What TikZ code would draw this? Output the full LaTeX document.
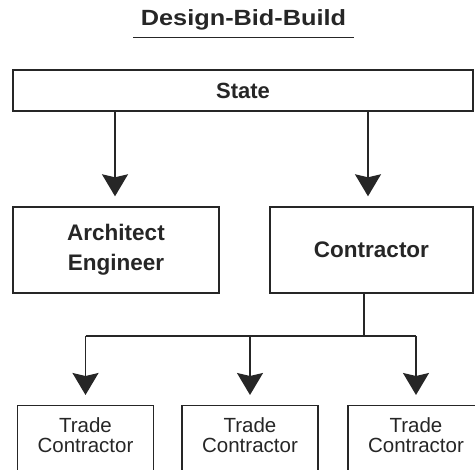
\documentclass[tikz,border=0pt]{standalone}
\usepackage{fontspec}
\setmainfont{Liberation Sans}
\newfontfamily\widefont[FakeStretch=1.15]{Liberation Sans}
\usepackage{tikz}
\usetikzlibrary{arrows.meta,positioning}
\definecolor{ink}{RGB}{38,38,38}

\begin{document}
\begin{tikzpicture}[x=1pt,y=-1pt,
    box/.style={draw=ink,line width=1.4pt,text=ink,align=center},
    bigbox/.style={box,font=\bfseries\fontsize{22.5}{30}\selectfont,minimum height=86pt},
    tradebox/.style={box,font=\fontsize{20.5}{20}\selectfont,minimum width=136pt,anchor=north,inner ysep=11.5pt,text depth=40pt},
    link/.style={ink,line width=1.5pt},
    arr/.style={link,-{Stealth[length=22pt,width=26pt,inset=3pt]},shorten >=10pt}]
  \clip (0,0) rectangle (475,470);
  % heading with its rule
  \node[font=\widefont\bfseries\fontsize{22}{24}\selectfont,text=ink,inner xsep=7.5pt,inner ysep=6.7pt] (title) at (243.5,20.1) {Design-Bid-Build};
  \draw[ink,line width=1.4pt] (title.south west) -- (title.south east);
  % top row
  \node[box,font=\bfseries\fontsize{22}{24}\selectfont,minimum width=460pt,minimum height=41pt] (state) at (243,90.5) {State};
  \node[bigbox,minimum width=206pt] (arch) at (116,250) {Architect\\Engineer};
  \node[bigbox,minimum width=203pt] (con) at (371.5,250) {Contractor};
  \coordinate (adrop) at (115,0);
  \coordinate (cdrop) at (368,0);
  \draw[arr] (state.south -| adrop) -- (arch.north -| adrop);
  \draw[arr] (state.south -| cdrop) -- (con.north -| cdrop);
  % trade contractors under the general contractor
  \foreach \n/\x in {1/85.5,2/250,3/416}
    \node[tradebox] (trade\n) at (\x,405) {Trade\\Contractor};
  \coordinate (bus) at (364,336);
  \draw[link] (con.south -| bus) -- (bus);
  \draw[link] (trade1.north |- bus) -- (trade3.north |- bus);
  \foreach \n in {1,2,3}
    \draw[arr] (trade\n.north |- bus) -- (trade\n.north);
\end{tikzpicture}
\end{document}
